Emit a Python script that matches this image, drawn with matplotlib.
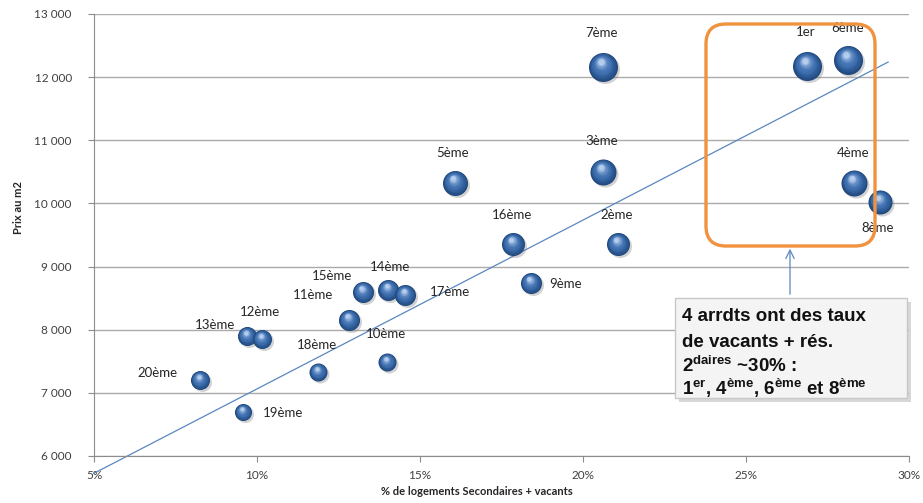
import matplotlib
matplotlib.use("Agg")
import matplotlib.pyplot as plt
import matplotlib.colors as mcolors
from matplotlib.patches import FancyBboxPatch, FancyArrowPatch
from matplotlib.transforms import offset_copy, IdentityTransform
from matplotlib.ticker import FuncFormatter, MultipleLocator
import numpy as np

# données
arrondissements = ["7ème", "1er", "6ème", "3ème", "4ème", "8ème", "5ème", "16ème", "2ème", "9ème",
                   "15ème", "14ème", "17ème", "11ème", "13ème", "12ème", "18ème", "10ème", "20ème", "19ème"]
taux_vacants = [20.61, 26.87, 28.13, 20.61, 28.31, 29.11, 16.07, 17.85, 21.07, 18.40,
                13.25, 14.02, 14.54, 12.82, 9.69, 10.15, 11.87, 13.99, 8.25, 9.57]
prix_m2 = [12160, 12176, 12271, 10496, 10322, 10021, 10322, 9355, 9355, 8737,
           8594, 8626, 8547, 8151, 7897, 7849, 7327, 7485, 7200, 6693]
taille_bulle = [29, 29, 29, 26, 26, 24, 25, 23, 23, 21,
                21, 21, 21, 21, 19, 19, 18, 18, 19, 17]

# courbe de tendance (extrémités lues)
tendance_x = [5.0, 29.36]
tendance_y = [5726, 12239]

# décalage des étiquettes (pixels)
label_offsets = {
    "7ème": (-1, 34), "1er": (-1, 34), "6ème": (0, 32), "3ème": (-1, 31), "4ème": (-1, 30),
    "8ème": (-2, -26), "5ème": (-2, 30), "16ème": (-1, 29), "2ème": (-1, 29), "9ème": (35, -1),
    "15ème": (-31, 16), "14ème": (2, 23), "17ème": (45, 3), "11ème": (-36, 25), "13ème": (-32, 11),
    "12ème": (-2, 27), "18ème": (-1, 27), "10ème": (-1, 28), "20ème": (-42, 7), "19ème": (40, -1),
}

plt.rcParams['font.family'] = ['Lato', 'DejaVu Sans']
plt.rcParams['mathtext.fontset'] = 'custom'
plt.rcParams['mathtext.rm'] = 'Liberation Sans'
plt.rcParams['mathtext.bf'] = 'Liberation Sans:bold'
plt.rcParams['mathtext.it'] = 'Liberation Sans:italic'

W, H = 923, 503
fig = plt.figure(figsize=(W / 100, H / 100), dpi=100)
ax = fig.add_axes([94 / W, 1 - 456 / H, (909 - 94) / W, (456 - 14) / H])

ax.set_xlim(5, 30)
ax.set_ylim(6000, 13000)
ax.xaxis.set_major_locator(MultipleLocator(5))
ax.yaxis.set_major_locator(MultipleLocator(1000))
ax.xaxis.set_major_formatter(FuncFormatter(lambda v, p: f"{v:.0f}%"))
ax.yaxis.set_major_formatter(FuncFormatter(lambda v, p: f"{int(v):,}".replace(",", " ")))
ax.grid(axis='y', color='#ABABAB', lw=1)
ax.set_axisbelow(True)
for s in ['top', 'right']:
    ax.spines[s].set_visible(False)
for s in ['left', 'bottom']:
    ax.spines[s].set_color('#8C8C8C')
ax.tick_params(axis='y', length=4, color='#8C8C8C', pad=12, labelsize=8.5, labelcolor='#404040')
ax.tick_params(axis='x', length=4, color='#8C8C8C', pad=6, labelsize=8.5, labelcolor='#404040')

ax.set_ylabel("Prix au m2", fontsize=8, fontweight='bold', color='#262626')
ax.yaxis.set_label_coords(-(94 - 24) / (909 - 94), (456 - 207) / (456 - 14))
ax.set_xlabel("% de logements Secondaires + vacants", fontsize=8, fontweight='bold', color='#262626')
ax.xaxis.set_label_coords((477 - 94) / (909 - 94), -(486 - 456) / (456 - 14))

# tendance
ax.plot(tendance_x, tendance_y, color='#5A87C0', lw=0.9, clip_on=False, zorder=2)

# bulles façon sphère
dark = np.array(mcolors.to_rgb('#1F477C'))
mid = np.array(mcolors.to_rgb('#3F70B1'))
light = np.array(mcolors.to_rgb('#B3CDEE'))
N = 14
for x, y, d in zip(taux_vacants, prix_m2, taille_bulle):
    dpt = d * 0.72
    sh = offset_copy(ax.transData, fig=fig, x=1.2, y=-1.2, units='points')
    ax.scatter([x], [y], s=dpt ** 2, color='#7F7F7F', alpha=0.35, lw=0, transform=sh, zorder=3)
    ax.scatter([x], [y], s=dpt ** 2, color=dark, lw=0, zorder=4)
    for k in range(1, N + 1):
        t = k / N
        dd = dpt * (1 - 0.8 * t)
        if t < 0.45:
            c = dark + (mid - dark) * (t / 0.45)
        else:
            c = mid + (light - mid) * ((t - 0.45) / 0.55) ** 1.8
        tr = offset_copy(ax.transData, fig=fig, x=-0.07 * dpt * t, y=0.19 * dpt * t, units='points')
        ax.scatter([x], [y], s=dd ** 2, color=c, lw=0, transform=tr, zorder=4)

for name, x, y in zip(arrondissements, taux_vacants, prix_m2):
    dx, dy = label_offsets[name]
    ax.annotate(name, (x, y), xytext=(dx, dy), textcoords='offset pixels',
                ha='center', va='center', fontsize=9.5, color='#262626', zorder=6)

# cadre orange
fig.add_artist(FancyBboxPatch((706, H - 246), 169, 222,
                              boxstyle="round,pad=0,rounding_size=20",
                              transform=IdentityTransform(), fill=False,
                              ec='#F0923E', lw=2.4, zorder=7))

# flèche
fig.add_artist(FancyArrowPatch((790, H - 297), (790, H - 246),
                               transform=IdentityTransform(),
                               arrowstyle='->,head_length=6,head_width=3',
                               color='#5A87C0', lw=0.9, zorder=7))

# encadré texte
fig.add_artist(FancyBboxPatch((679, H - 402), 232, 100, boxstyle="square,pad=0",
                              transform=IdentityTransform(), fc='#BFBFBF', ec='none',
                              alpha=0.6, zorder=8))
fig.add_artist(FancyBboxPatch((675, H - 398), 232, 100, boxstyle="square,pad=0",
                              transform=IdentityTransform(), fc='#F4F4F4', ec='#C8C8C8',
                              lw=1, zorder=9))

def px(x, y):
    return x / W, 1 - y / H

lignes = [
    ("4 arrdts ont des taux", 321),
    ("de vacants + rés.", 347),
    (r"2$^{\mathbf{daires}}$ ~30% :", 372),
    (r"1$^{\mathbf{er}}$, 4$^{\mathbf{ème}}$, 6$^{\mathbf{ème}}$ et 8$^{\mathbf{ème}}$", 395),
]
for txt, yy in lignes:
    fig.text(*px(682, yy), txt, ha='left', va='baseline', fontsize=13.5,
             fontweight='bold', family='Liberation Sans', color='#111111', zorder=10)

fig.savefig("out.png", dpi=100)
